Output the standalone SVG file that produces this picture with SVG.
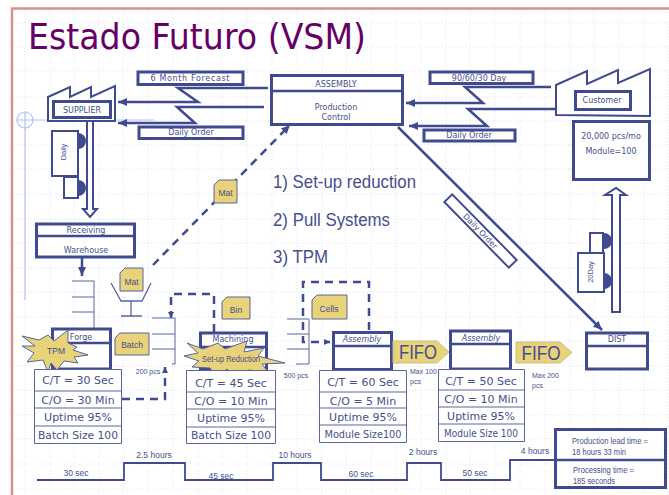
<svg xmlns="http://www.w3.org/2000/svg" width="669" height="495" viewBox="0 0 669 495">
<style>
text{font-family:"Liberation Sans",Arial,sans-serif;fill:#454f8c;text-anchor:middle}
.h{font-family:"DejaVu Sans",sans-serif;font-size:8px}
.d{font-family:"DejaVu Sans",sans-serif;font-size:11px}
.m{font-family:"DejaVu Sans",sans-serif;font-size:10px}
.n{font-size:8.500px}
.s{font-size:7.500px}
.x{font-size:7px;text-anchor:start}
.l{text-anchor:start}
.big{font-size:19px;text-anchor:start}
.f{font-size:21px}
.b{fill:#fff;stroke:#3f4a8f;stroke-width:3}
.b2{fill:#fff;stroke:#3f4a8f;stroke-width:2}
.t{fill:#fff;stroke:#5a64a0;stroke-width:1}
.ln{fill:none;stroke:#3f4a8f;stroke-width:2.500}
.thin{fill:none;stroke:#5a64a0;stroke-width:1}
.dash{fill:none;stroke:#3f4a8f;stroke-width:2.500;stroke-dasharray:8 6}
.y{fill:#e8d27a;stroke:#5a64a0;stroke-width:1}
.w{fill:#3f4a8f}
.grid{stroke:#dde5fa;stroke-width:1;stroke-dasharray:1 2}
</style>
<defs>
<marker id="a" markerUnits="userSpaceOnUse" markerWidth="10" markerHeight="10" refX="9" refY="5" orient="auto"><path d="M0 1L9 5L0 9z" fill="#3f4a8f"/></marker>
<marker id="a2" markerUnits="userSpaceOnUse" markerWidth="7" markerHeight="7" refX="6" refY="3.500" orient="auto"><path d="M0 .5L6 3.500L0 6.500z" fill="#3f4a8f"/></marker>
</defs>
<rect width="669" height="495" fill="#fff"/>
<g id="grid" class="grid">
<path d="M25 9V495M50 9V495M74 9V495M99 9V495M123 9V495M148 9V495M173 9V495M198 9V495M222 9V495M247 9V495M272 9V495M297 9V495M322 9V495M346 9V495M371 9V495M396 9V495M421 9V495M446 9V495M470 9V495M495 9V495M520 9V495M545 9V495M570 9V495M594 9V495M619 9V495M644 9V495M668 9V495"/>
<path d="M13 23H669M13 47H669M13 71H669M13 97H669M13 121H669M13 145H669M13 169H669M13 194H669M13 219H669M13 243H669M13 268H669M13 292H669M13 317H669M13 341H669M13 366H669M13 390H669M13 415H669M13 439H669M13 464H669M13 489H669"/>
</g>
<path id="frame" d="M12 495V8.500H669" fill="none" stroke="#d89090" stroke-width="2.500"/>
<g id="guide" fill="none" stroke="#b4c2f2" stroke-width="1.200">
<circle cx="25" cy="120" r="8"/><path d="M17 120H154M25 112V300"/>
</g>
<text id="title" x="28" y="49" class="l" style="font-family:'DejaVu Sans',sans-serif;font-size:35px;fill:#660066" textLength="338" lengthAdjust="spacingAndGlyphs">Estado Futuro (VSM)</text>
<g id="truck-customer">
<path class="w" d="M604 233a8 8 0 0 1 0 16zM604 273a8 8 0 0 1 0 16z"/>
<rect class="b2" x="578" y="253" width="26" height="39"/><rect class="b2" x="590" y="233" width="13" height="20"/>
<text class="s" transform="translate(593,272) rotate(-90)">20Day</text>
</g>
<g id="connectors">
<path class="ln" d="M268 88H178L198 102H118" marker-end="url(#a)"/>
<path class="ln" d="M264 107H177L195 123H118" marker-end="url(#a)"/>
<path class="ln" d="M551 87H465L483 103H406" marker-end="url(#a)"/>
<path class="ln" d="M555 109H468L487 126H409" marker-end="url(#a)"/>
<path class="dash" d="M153 265L290 125" marker-end="url(#a)"/>
<path class="ln" d="M398 127L602 330" marker-end="url(#a)"/>
<path d="M87 121V209H83L90 217L97 209H93V121z" fill="#fff" stroke="#3f4a8f" stroke-width="2"/>
<path d="M612 312V195H605L616 188L626 195H620V312z" fill="#fff" stroke="#3f4a8f" stroke-width="2"/>
<path class="ln" d="M82 258V276" marker-end="url(#a)"/>
<path class="dash" d="M122 399H165V367" marker-end="url(#a2)"/>
<path class="dash" d="M214 332V294H171V318" marker-end="url(#a2)"/>
<path class="dash" d="M369 330V282H303V342H330" marker-end="url(#a2)"/>
<path d="M37 480H124V463H185V480H273V463H321V480H407V463H441V480H510V460H555" fill="none" stroke="#3f4a8f" stroke-width="1.800"/>
</g>
<g id="supplier">
<path class="b2" d="M48 97L70 87V97L91 87V97L115 86V121H48z"/>
<rect class="b" x="53.500" y="101.500" width="57" height="16"/>
<text class="h" x="82" y="113">SUPPLIER</text>
</g>
<g id="forecast-box"><rect class="b" x="138" y="72" width="105" height="12.500"/><text class="h" x="190" y="81" textLength="79">6 Month Forecast</text></g>
<g id="daily-order-left"><rect class="b" x="139" y="127" width="104" height="11.500"/><text class="h" x="191" y="135">Daily Order</text></g>
<g id="control">
<rect class="b" x="271.500" y="75.500" width="131" height="49"/><path class="ln" d="M271 91H403"/>
<text class="h" x="336" y="87">ASSEMBLY</text><text class="h" x="336" y="110">Production</text><text class="h" x="336" y="120">Control</text>
</g>
<g id="day-box"><rect class="b" x="430" y="72" width="103" height="11.500"/><text class="h" x="479" y="81">90/60/30 Day</text></g>
<g id="daily-order-right"><rect class="b" x="424" y="130" width="91" height="11"/><text class="h" x="469" y="138">Daily Order</text></g>
<g id="customer">
<path class="b2" d="M556 85L587 71V84L618 70V83L650 69V116L556 115z"/>
<rect class="b" x="575.500" y="91.500" width="55" height="18"/>
<text class="h" x="602" y="103">Customer</text>
</g>
<g id="demand"><rect class="b" x="573.500" y="121.500" width="76" height="58"/><text class="h" x="611" y="139">20,000 pcs/mo</text><text class="h" x="611" y="154">Module=100</text></g>
<g id="truck-supplier">
<path class="w" d="M78 133a8 8 0 0 1 0 16zM78 180a8 8 0 0 1 0 16z"/>
<rect class="b2" x="52" y="131" width="26" height="45"/><rect class="b2" x="64" y="177" width="14" height="21"/>
<text class="s" transform="translate(66,152) rotate(-90)">Daily</text>
</g>
<g id="daily-order-diag" transform="translate(480.500,231) rotate(45.500)">
<rect class="b2" x="-46" y="-5.500" width="92" height="11"/><text class="h" x="0" y="3">Daily Order</text>
</g>
<g id="mat-note"><path class="y" d="M219 180H237V203H214V185z"/><text class="n" x="225.500" y="196">Mat</text></g>
<text class="big" x="273" y="188" textLength="143" lengthAdjust="spacingAndGlyphs">1) Set-up reduction</text>
<text class="big" x="273" y="226" textLength="117" lengthAdjust="spacingAndGlyphs">2) Pull Systems</text>
<text class="big" x="273" y="263" textLength="55" lengthAdjust="spacingAndGlyphs">3) TPM</text>
<g id="receiving">
<rect class="b" x="36.500" y="224" width="98" height="33"/><path class="ln" d="M36 236H135"/>
<text class="h" x="86" y="233">Receiving</text><text class="h" x="86" y="253">Warehouse</text>
</g>
<g id="inv1"><path class="thin" d="M72 281H94V328M72 297H94M72 312H94"/></g>
<g id="kanban-post">
<path class="thin" d="M111 283L121 301H142L151 283M131 301V316M121 316H142" style="stroke-width:1.300"/>
<path class="y" d="M125 268H143V291H120V273z"/><text class="n" x="131.500" y="285">Mat</text>
</g>
<g id="forge">
<rect class="b" x="52.500" y="329" width="58" height="40"/><path class="ln" d="M52 343H111"/>
<text class="h" x="81" y="340">Forge</text>
</g>
<g id="tpm"><path class="y" d="M22 336L39 340L48 335L54 341L68 330L68 343L77 347L73 350L88 355L74 357L78 363L64 361L57 370L51 363L48 372L43 360L27 362L34 353L22 346L35 346z"/><text class="n" x="56" y="354">TPM</text></g>
<g id="forge-data">
<path class="t" d="M34.500 369.500H121.500V443.500H34.500zM34.500 391H121.500M34.500 408H121.500M34.500 426H121.500"/>
<text class="d" x="78" y="384">C/T = 30 Sec</text><text class="d" x="78" y="404">C/O = 30 Min</text><text class="d" x="78" y="421">Uptime 95%</text><text class="d" x="78" y="439" textLength="80" lengthAdjust="spacingAndGlyphs">Batch Size 100</text>
</g>
<g id="batch"><path class="y" d="M120 333H149V355H115V338z"/><text class="n" x="132" y="348">Batch</text></g>
<g id="inv2"><path class="thin" d="M152 318H175V364H172M152 334H175M152 349H175"/><text x="148" y="374" style="font-size:7px">200 pcs</text></g>
<g id="bin"><path class="y" d="M227 297H250V319H222V302z"/><text class="n" x="236" y="313">Bin</text></g>
<g id="machining">
<rect class="b" x="200.500" y="333" width="66" height="36"/><path class="ln" d="M200 347H267"/>
<text class="h" x="233" y="342">Machining</text>
</g>
<g id="setup"><path class="y" d="M187 343L203 349L218 343L225 349L247 341L244 352L264 348L258 356L285 363L262 364L268 372L248 370L237 380L227 369L217 378L210 368L192 367L199 361L184 356L198 353z"/><text class="n" x="231" y="362" textLength="58" lengthAdjust="spacingAndGlyphs">Set-up Reduction</text></g>
<g id="machining-data">
<path class="t" d="M186.500 370.500H275.500V443.500H186.500zM186.500 392H275.500M186.500 409H275.500M186.500 427H275.500"/>
<text class="d" x="231" y="387">C/T = 45 Sec</text><text class="d" x="231" y="405">C/O = 10 Min</text><text class="d" x="231" y="422">Uptime 95%</text><text class="d" x="231" y="439" textLength="80" lengthAdjust="spacingAndGlyphs">Batch Size 100</text>
</g>
<g id="inv3"><path class="thin" d="M287 319H309V364H296M287 334H309M287 349H309"/><text x="296" y="378" style="font-size:7px">500 pcs</text></g>
<g id="cells"><path class="y" d="M317 295H347V319H312V300z"/><text class="n" x="329" y="312">Cells</text></g>
<g id="assembly1">
<rect class="b" x="333.500" y="332.500" width="58" height="37"/><path class="ln" d="M333 346H392"/>
<text class="h" x="362" y="342" style="font-style:italic">Assembly</text>
</g>
<g id="assembly1-data">
<path class="t" d="M319.500 370.500H406.500V442.500H319.500zM319.500 392H406.500M319.500 408H406.500M319.500 425H406.500"/>
<text class="d" x="363" y="386">C/T = 60 Sec</text><text class="d" x="363" y="405">C/O = 5 Min</text><text class="d" x="363" y="421">Uptime 95%</text><text class="m" x="363" y="438" textLength="77" lengthAdjust="spacingAndGlyphs">Module Size100</text>
</g>
<g id="fifo1"><path d="M393 341H437L449 352L437 363H393z" fill="#e8d27a" stroke="#c8bc8a"/><text class="f" x="418" y="359" textLength="38" lengthAdjust="spacingAndGlyphs">FIFO</text>
<text class="x" x="410" y="374">Max  100</text><text class="x" x="410" y="384">pcs</text></g>
<g id="assembly2">
<rect class="b" x="450.500" y="331" width="60" height="38"/><path class="ln" d="M450 344H511"/>
<text class="h" x="481" y="341" style="font-style:italic">Assembly</text>
</g>
<g id="assembly2-data">
<path class="t" d="M438.500 369.500H524.500V441.500H438.500zM438.500 390H524.500M438.500 407H524.500M438.500 424H524.500"/>
<text class="d" x="481" y="385">C/T = 50 Sec</text><text class="d" x="481" y="403">C/O = 10 Min</text><text class="d" x="481" y="420">Uptime 95%</text><text class="m" x="481" y="437" textLength="74" lengthAdjust="spacingAndGlyphs">Module Size 100</text>
</g>
<g id="fifo2"><path d="M516 342H560L572 352.500L560 363H516z" fill="#e8d27a" stroke="#c8bc8a"/><text class="f" x="541" y="360" textLength="39" lengthAdjust="spacingAndGlyphs">FIFO</text>
<text class="x" x="532" y="378">Max  200</text><text class="x" x="532" y="388">pcs</text></g>
<g id="dist">
<rect class="b" x="586.500" y="333" width="61" height="36"/><path class="ln" d="M586 346H648"/>
<text class="h" x="617" y="342">DIST</text>
</g>
<g id="timeline-labels">
<text class="n" x="76" y="476">30 sec</text><text class="n" x="154" y="458">2.5  hours</text><text class="n" x="221" y="479">45 sec</text><text class="n" x="295" y="458">10  hours</text><text class="n" x="361" y="477">60 sec</text><text class="n" x="423" y="455">2 hours</text><text class="n" x="475" y="476">50 sec</text><text class="n" x="535" y="454">4 hours</text>
</g>
<g id="summary">
<rect class="b" x="555.500" y="429.500" width="110" height="58"/><path class="ln" d="M555 460H666"/>
<text class="n l" x="572" y="444" textLength="76" lengthAdjust="spacingAndGlyphs">Production lead time =</text><text class="n l" x="572" y="455" textLength="54" lengthAdjust="spacingAndGlyphs">18 hours 33 min</text><text class="n l" x="573" y="473" textLength="61" lengthAdjust="spacingAndGlyphs">Processing time =</text><text class="n l" x="573" y="484" textLength="42" lengthAdjust="spacingAndGlyphs">185 seconds</text>
</g>
</svg>
